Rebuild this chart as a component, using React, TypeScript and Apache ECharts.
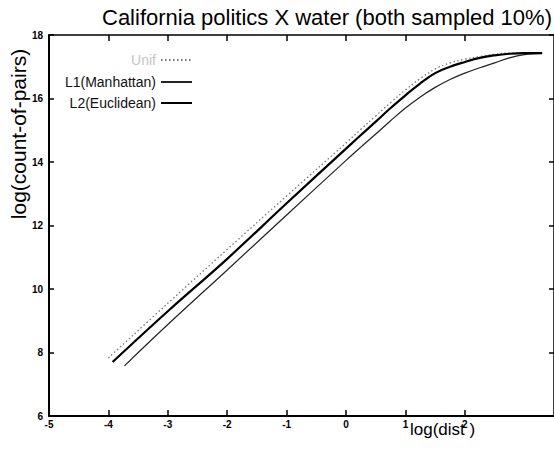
import React, { useEffect, useRef } from "react";
import * as echarts from "echarts";

const TITLE = "California politics X water (both sampled 10%)";
const X_NAME = "log(dist )";
const Y_NAME = "log(count-of-pairs)";
const SERIES_NAMES = ["Unif", "L1(Manhattan)", "L2(Euclidean)"];

const X_TICKS = [-5, -4, -3, -2, -1, 0, 1, 2];
const Y_TICKS = [6, 8, 10, 12, 14, 16, 18];

const unifX = [-4.0, -3, -2, -1, 0, 0.25, 0.5, 0.75, 1, 1.25, 1.5, 1.75, 2, 2.25, 2.5, 2.75, 3.3];
const unifY = [7.83, 9.55, 11.25, 12.93, 14.6, 15.03, 15.45, 15.87, 16.27, 16.63, 16.93, 17.12, 17.24, 17.32, 17.39, 17.43, 17.43];

const l1X = [-3.73, -3, -2, -1, 0, 0.25, 0.5, 0.75, 1, 1.25, 1.5, 1.75, 2, 2.25, 2.5, 2.75, 3.0, 3.3];
const l1Y = [7.58, 8.88, 10.6, 12.33, 14.05, 14.47, 14.88, 15.3, 15.7, 16.05, 16.35, 16.6, 16.8, 16.97, 17.12, 17.28, 17.38, 17.42];

const l2X = [-3.93, -3, -2, -1, 0, 0.25, 0.5, 0.75, 1, 1.25, 1.5, 1.75, 2, 2.25, 2.5, 2.75, 3.0, 3.3];
const l2Y = [7.7, 9.3, 10.95, 12.7, 14.42, 14.85, 15.27, 15.7, 16.1, 16.48, 16.8, 17.0, 17.15, 17.28, 17.36, 17.41, 17.43, 17.43];

const pairs = (xs: number[], ys: number[]) => xs.map((x, i) => [x, ys[i]]);

const FONT = "'Liberation Sans', Arial, Helvetica, sans-serif";

export default function App() {
  const ref = useRef<HTMLDivElement>(null);
  useEffect(() => {
    if (!ref.current) return;
    const chart = echarts.init(ref.current, undefined, { renderer: "svg" });
    const tickLabel = { fontSize: 10, fontWeight: "bold" as const, color: "#000", fontFamily: FONT };
    const legendBase = {
      orient: "vertical" as const,
      align: "right" as const,
      itemWidth: 31,
      itemHeight: 14,
      right: 356,
      itemStyle: { opacity: 0 },
      textStyle: { fontSize: 14, color: "#111", fontFamily: FONT },
      selectedMode: false,
    };
    chart.setOption({
      animation: false,
      backgroundColor: "#fff",
      title: {
        text: TITLE,
        left: 97,
        top: 1,
        textStyle: { fontSize: 22, fontWeight: "normal", color: "#000", fontFamily: FONT },
      },
      grid: { left: 49, right: -3, top: 35, bottom: 33, containLabel: false },
      legend: [
        { ...legendBase, top: 48, data: [{ name: SERIES_NAMES[0], textStyle: { color: "#c4c4c4" } }] },
        { ...legendBase, top: 70, data: [{ name: SERIES_NAMES[1] }] },
        { ...legendBase, top: 91, data: [{ name: SERIES_NAMES[2] }] },
      ],
      xAxis: [
        {
          type: "value",
          min: -5,
          max: 3.5,
          interval: 1,
          position: "bottom",
          axisLine: { show: true, onZero: false, lineStyle: { color: "#000", width: 2 } },
          axisTick: { show: true, inside: true, length: 6, customValues: X_TICKS, lineStyle: { color: "#000", width: 1.5 } },
          axisLabel: { ...tickLabel, margin: 3, customValues: X_TICKS },
          splitLine: { show: false },
        },
        {
          type: "value",
          min: -5,
          max: 3.5,
          interval: 1,
          position: "top",
          axisLine: { show: true, onZero: false, lineStyle: { color: "#000", width: 1.5 } },
          axisTick: { show: true, inside: true, length: 6, customValues: X_TICKS, lineStyle: { color: "#000", width: 1.5 } },
          axisLabel: { show: false },
          splitLine: { show: false },
        },
      ],
      yAxis: [
        {
          type: "value",
          min: 6,
          max: 18,
          interval: 2,
          position: "left",
          axisLine: { show: true, onZero: false, lineStyle: { color: "#000", width: 2 } },
          axisTick: { show: true, inside: true, length: 5, customValues: Y_TICKS, lineStyle: { color: "#000", width: 1.5 } },
          axisLabel: { ...tickLabel, margin: 6, customValues: Y_TICKS },
          splitLine: { show: false },
        },
        {
          type: "value",
          min: 6,
          max: 18,
          interval: 2,
          position: "right",
          axisLine: { show: true, onZero: false, lineStyle: { color: "#000", width: 1.5 } },
          axisTick: { show: true, inside: true, length: 5, customValues: Y_TICKS, lineStyle: { color: "#000", width: 1.5 } },
          axisLabel: { show: false },
          splitLine: { show: false },
        },
      ],
      series: [
        {
          name: SERIES_NAMES[0],
          type: "line",
          symbol: "none",
          smooth: 0.4,
          data: pairs(unifX, unifY),
          color: "#777",
          lineStyle: { color: "#777", width: 1.3, type: [1.5, 2.5] },
        },
        {
          name: SERIES_NAMES[1],
          type: "line",
          symbol: "none",
          smooth: 0.4,
          data: pairs(l1X, l1Y),
          color: "#222",
          lineStyle: { color: "#222", width: 1.2, type: "solid" },
        },
        {
          name: SERIES_NAMES[2],
          type: "line",
          symbol: "none",
          smooth: 0.4,
          data: pairs(l2X, l2Y),
          color: "#000",
          lineStyle: { color: "#000", width: 2.2, type: "solid" },
        },
      ],
      graphic: [
        {
          type: "text",
          x: 18,
          y: 134,
          rotation: Math.PI / 2,
          style: {
            text: Y_NAME,
            fontSize: 21,
            fontFamily: FONT,
            fill: "#000",
            textAlign: "center",
            textVerticalAlign: "middle",
          },
        },
        {
          type: "text",
          x: 410,
          y: 429,
          style: {
            text: X_NAME,
            fontSize: 17,
            fontFamily: FONT,
            fill: "#000",
            textAlign: "left",
            textVerticalAlign: "middle",
          },
        },
      ],
    });
    return () => chart.dispose();
  }, []);
  return (
    <div
      ref={ref}
      style={{ position: "fixed", left: 0, top: 0, width: 554, height: 449, background: "#fff" }}
    />
  );
}
